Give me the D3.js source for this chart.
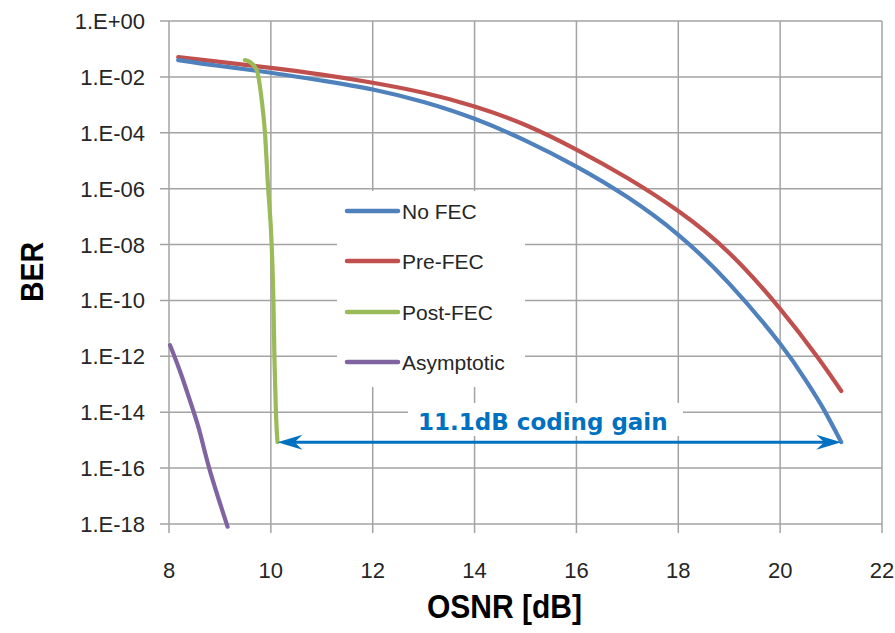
<!DOCTYPE html>
<html>
<head>
<meta charset="utf-8">
<script src="https://cdn.jsdelivr.net/npm/d3@7"></script>
<style>
  html, body { margin: 0; padding: 0; background: #fff; }
  svg { display: block; }
</style>
</head>
<body>
<svg id="chart" width="895" height="633"></svg>
<script>
// ---------- data ----------
const seriesNames = ["No FEC", "Pre-FEC", "Post-FEC", "Asymptotic"];
const seriesColors = ["#4F81BD", "#C0504D", "#9BBB59", "#8064A2"];

const noFecOsnr = [8.18, 9, 10, 11, 12, 13, 14, 15, 16, 17, 18, 19, 20, 20.5, 20.85, 21.2];
const noFecBer  = [3.98e-2, 2.45e-2, 1.41e-2, 7.4e-3, 3.55e-3, 1.26e-3, 3.16e-4, 5.25e-5, 6.17e-6, 5.0e-7, 2.24e-8, 3.98e-10, 2.82e-12, 1.41e-13, 1.32e-14, 8.5e-16];

const preFecOsnr = [8.18, 9, 10, 11, 12, 13, 14, 15, 16, 17, 18, 19, 20, 20.75, 21.2];
const preFecBer  = [5.1e-2, 3.47e-2, 2.09e-2, 1.2e-2, 6.17e-3, 2.69e-3, 8.7e-4, 1.9e-4, 2.5e-5, 2.4e-6, 1.58e-7, 5.0e-9, 5.0e-11, 8.5e-13, 5.75e-14];

const postFecOsnr = [9.49, 9.59, 9.72, 9.82, 9.885, 9.94, 10.02, 10.05, 10.07, 10.10, 10.13];
const postFecBer  = [4.0e-2, 3.4e-2, 1.8e-2, 1.5e-3, 9.8e-5, 1.6e-6, 6.3e-9, 1.0e-10, 9.3e-13, 9.3e-15, 8.5e-16];

const asymOsnr = [8.02, 8.22, 8.45, 8.61, 8.8, 9.15];
const asymBer  = [2.5e-12, 2.8e-13, 1.6e-14, 1.8e-15, 8.5e-17, 8.0e-19];

const xTicks = [8, 10, 12, 14, 16, 18, 20, 22];
const yTicks = [1e0, 1e-2, 1e-4, 1e-6, 1e-8, 1e-10, 1e-12, 1e-14, 1e-16, 1e-18];
const yTickLabels = ["1.E+00", "1.E-02", "1.E-04", "1.E-06", "1.E-08", "1.E-10", "1.E-12", "1.E-14", "1.E-16", "1.E-18"];

const gainLabel = "11.1dB coding gain";
const xTitle = "OSNR [dB]";
const yTitle = "BER";

// ---------- layout ----------
const svg = d3.select("#chart");
const pLeft = 169, pRight = 882, pTop = 21, pBottom = 524;
const x = d3.scaleLinear().domain([8, 22]).range([pLeft, pRight]);
const y = d3.scaleLog().domain([1, 1e-18]).range([pTop, pBottom]);

const gridColor = "#a3a3a3";
const textColor = "#262626";
const font = "'Liberation Sans', Arial, sans-serif";

// gridlines
const grid = svg.append("g");
grid.selectAll("line.h").data(yTicks).join("line")
  .attr("x1", pLeft - 9).attr("x2", pRight)
  .attr("y1", d => y(d)).attr("y2", d => y(d))
  .attr("stroke", gridColor).attr("stroke-width", 1.5);
grid.selectAll("line.v").data(xTicks).join("line")
  .attr("x1", d => x(d)).attr("x2", d => x(d))
  .attr("y1", pTop).attr("y2", pBottom + 9)
  .attr("stroke", gridColor).attr("stroke-width", 1.5);

// y tick labels
svg.append("g").selectAll("text").data(yTicks).join("text")
  .attr("x", 145).attr("y", d => y(d) + 8)
  .attr("text-anchor", "end")
  .attr("font-family", font).attr("font-size", 22).attr("fill", textColor)
  .text((d, i) => yTickLabels[i]);

// x tick labels
svg.append("g").selectAll("text").data(xTicks).join("text")
  .attr("x", d => x(d)).attr("y", 578)
  .attr("text-anchor", "middle")
  .attr("font-family", font).attr("font-size", 22).attr("fill", textColor)
  .text(d => d);

// axis titles
svg.append("text")
  .attr("x", 504.5).attr("y", 618)
  .attr("text-anchor", "middle")
  .attr("font-family", font).attr("font-weight", "bold").attr("font-size", 33)
  .attr("textLength", 155).attr("lengthAdjust", "spacingAndGlyphs")
  .attr("fill", "#000").text(xTitle);
svg.append("text")
  .attr("transform", "translate(43,272) rotate(-90)")
  .attr("text-anchor", "middle")
  .attr("font-family", font).attr("font-weight", "bold").attr("font-size", 32)
  .attr("textLength", 60).attr("lengthAdjust", "spacingAndGlyphs")
  .attr("fill", "#000").text(yTitle);

// legend background
svg.append("rect").attr("x", 337).attr("y", 191).attr("width", 188).attr("height", 196).attr("fill", "#fff");

// series
const series = [
  [noFecOsnr, noFecBer, d3.curveNatural],
  [preFecOsnr, preFecBer, d3.curveNatural],
  [postFecOsnr, postFecBer, d3.curveMonotoneX],
  [asymOsnr, asymBer, d3.curveNatural]
];
const plot = svg.append("g");
[3, 1, 0, 2].forEach(i => {
  const pts = series[i][0].map((v, k) => [v, series[i][1][k]]);
  const line = d3.line().x(d => x(d[0])).y(d => y(d[1])).curve(series[i][2]);
  plot.append("path").datum(pts)
    .attr("d", line)
    .attr("fill", "none")
    .attr("stroke", seriesColors[i])
    .attr("stroke-width", 4.2)
    .attr("stroke-linejoin", "round")
    .attr("stroke-linecap", "round");
});

// legend
const legend = svg.append("g");
const legY = [211, 261, 312, 362];
seriesNames.forEach((name, i) => {
  legend.append("line")
    .attr("x1", 347).attr("x2", 398).attr("y1", legY[i]).attr("y2", legY[i])
    .attr("stroke", seriesColors[i]).attr("stroke-width", 4.5).attr("stroke-linecap", "round");
  legend.append("text")
    .attr("x", 402).attr("y", legY[i] + 8)
    .attr("font-family", font).attr("font-size", 21).attr("fill", textColor)
    .text(name);
});

// coding gain annotation
const annColor = "#0070C0";
const gainStart = postFecOsnr[postFecOsnr.length - 1];
const gainEnd = noFecOsnr[noFecOsnr.length - 1];
const gainBer = noFecBer[noFecBer.length - 1];
const ay = y(gainBer);
const ax1 = x(gainStart), ax2 = x(gainEnd);

svg.append("rect").attr("x", 408).attr("y", 403).attr("width", 275).attr("height", 33).attr("fill", "#fff");
svg.append("text")
  .attr("x", 418).attr("y", 430)
  .attr("font-family", "'DejaVu Sans', Verdana, sans-serif").attr("font-weight", "bold").attr("font-size", 23)
  .attr("fill", annColor).text(gainLabel);

svg.append("line")
  .attr("x1", ax1 + 8).attr("x2", ax2 - 8).attr("y1", ay).attr("y2", ay)
  .attr("stroke", annColor).attr("stroke-width", 3);
function head(tipX, dir) {
  const L = 25, W = 7.5, N = 17;
  return `M${tipX},${ay} L${tipX + dir * L},${ay - W} L${tipX + dir * N},${ay} L${tipX + dir * L},${ay + W} Z`;
}
svg.append("path").attr("d", head(ax1, 1)).attr("fill", annColor);
svg.append("path").attr("d", head(ax2, -1)).attr("fill", annColor);
</script>
</body>
</html>
